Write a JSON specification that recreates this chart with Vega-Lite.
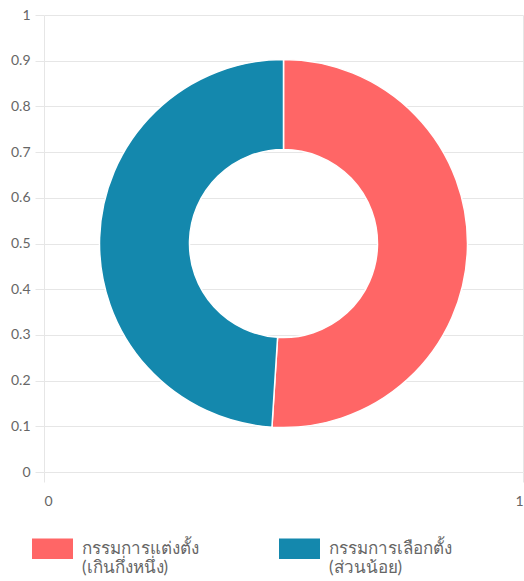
{
  "$schema": "https://vega.github.io/schema/vega-lite/v6.json",
  "width": 479,
  "height": 457,
  "autosize": {"type": "none"},
  "padding": {"left": 44, "top": 15, "right": 1, "bottom": 109},
  "background": "white",
  "config": {
    "view": {"stroke": null},
    "font": "Lato, sans-serif",
    "axis": {
      "labelFont": "Lato, sans-serif",
      "labelColor": "#666666",
      "labelFontSize": 14,
      "gridColor": "#e6e6e6",
      "gridWidth": 1,
      "tickColor": "#e6e6e6",
      "domainColor": "#dddddd",
      "title": null
    }
  },
  "datasets": {
    "slices": [
      {"label": "กรรมการแต่งตั้ง\n(เกินกึ่งหนึ่ง)", "value": 51},
      {"label": "กรรมการเลือกตั้ง\n(ส่วนน้อย)", "value": 49}
    ]
  },
  "layer": [
    {
      "data": {"name": "slices"},
      "mark": {"type": "point", "opacity": 0},
      "encoding": {
        "x": {
          "datum": 0,
          "type": "quantitative",
          "scale": {"domain": [0, 1], "nice": false, "zero": false},
          "axis": {
            "values": [0, 1],
            "format": "~g",
            "grid": true,
            "domain": false,
            "tickSize": 10,
            "labelPadding": 12
          }
        },
        "y": {
          "datum": 0,
          "type": "quantitative",
          "scale": {"domain": [0, 1], "nice": false, "zero": false},
          "axis": {
            "values": [0, 0.1, 0.2, 0.3, 0.4, 0.5, 0.6, 0.7, 0.8, 0.9, 1],
            "format": "~g",
            "grid": true,
            "domain": false,
            "tickSize": 9,
            "labelPadding": 5
          }
        }
      }
    },
    {
      "data": {"name": "slices"},
      "mark": {"type": "arc", "outerRadius": 184, "innerRadius": 94, "stroke": "white", "strokeWidth": 1.5},
      "encoding": {
        "theta": {"field": "value", "type": "quantitative", "stack": true},
        "order": {"field": "value", "type": "quantitative", "sort": "descending"},
        "color": {
          "field": "label",
          "type": "nominal",
          "scale": {
            "domain": ["กรรมการแต่งตั้ง\n(เกินกึ่งหนึ่ง)", "กรรมการเลือกตั้ง\n(ส่วนน้อย)"],
            "range": ["#ff6666", "#1488ad"]
          },
          "legend": {
            "title": null,
            "orient": "none",
            "legendX": -12,
            "legendY": 513,
            "direction": "horizontal",
            "columns": 2,
            "columnPadding": 80,
            "symbolType": "M-1,-0.5H1V0.5H-1Z",
            "symbolSize": 1681,
            "symbolStrokeWidth": 0,
            "symbolOpacity": 1,
            "labelFont": "Lato, sans-serif",
            "labelFontSize": 17,
            "labelColor": "#666666",
            "labelOffset": 9,
            "labelLimit": 300,
            "labelExpr": "split(datum.label, '\\n')"
          }
        }
      }
    }
  ]
}
